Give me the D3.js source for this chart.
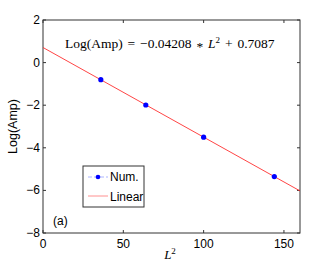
<!DOCTYPE html>
<html>
<head>
<meta charset="utf-8">
<script src="https://cdn.jsdelivr.net/npm/d3@7"></script>
<style>
body { margin: 0; background: #fff; }
svg { display: block; }
</style>
</head>
<body>
<script>
// data
const L2 = [36, 64, 100, 144];
const logAmp = [-0.80, -1.99, -3.50, -5.35];
const slope = -0.04208, intercept = 0.7087;
const xTicks = [0, 50, 100, 150];
const yTicks = [2, 0, -2, -4, -6, -8];

const W = 332, H = 263;
const margin = {left: 43, right: 32, top: 20, bottom: 30};

const svg = d3.select("body").append("svg").attr("width", W).attr("height", H);

const x = d3.scaleLinear().domain([0, 160]).range([margin.left, W - margin.right]);
const y = d3.scaleLinear().domain([-8, 2]).range([H - margin.bottom, margin.top]);

const font = "Helvetica, 'Liberation Sans', Arial, sans-serif";
const serif = "'Liberation Serif', 'Times New Roman', serif";

// box
svg.append("rect")
    .attr("x", x(0)).attr("y", y(2))
    .attr("width", x(160) - x(0)).attr("height", y(-8) - y(2))
    .attr("fill", "none").attr("stroke", "#333").attr("stroke-width", 1);

// inward ticks, mirrored
const tl = 3;
xTicks.forEach(t => {
    svg.append("line").attr("x1", x(t)).attr("x2", x(t)).attr("y1", y(-8)).attr("y2", y(-8) - tl).attr("stroke", "#333");
    svg.append("line").attr("x1", x(t)).attr("x2", x(t)).attr("y1", y(2)).attr("y2", y(2) + tl).attr("stroke", "#333");
    svg.append("text").attr("x", x(t)).attr("y", y(-8) + 15)
        .attr("text-anchor", "middle").attr("font-family", font).attr("font-size", 12)
        .text(t);
});
yTicks.forEach(t => {
    svg.append("line").attr("x1", x(0)).attr("x2", x(0) + tl).attr("y1", y(t)).attr("y2", y(t)).attr("stroke", "#333");
    svg.append("line").attr("x1", x(160)).attr("x2", x(160) - tl).attr("y1", y(t)).attr("y2", y(t)).attr("stroke", "#333");
    svg.append("text").attr("x", x(0) - 3).attr("y", y(t) + 4)
        .attr("text-anchor", "end").attr("font-family", font).attr("font-size", 12)
        .text(t < 0 ? "\u2212" + Math.abs(t) : t);
});

// fit line
const line = d3.line().x(d => x(d)).y(d => y(slope * d + intercept));
svg.append("path").datum([0, 160]).attr("d", line)
    .attr("fill", "none").attr("stroke", "#ff3030").attr("stroke-width", 0.9);

// data points
svg.selectAll(".pt").data(L2).enter().append("circle")
    .attr("cx", d => x(d)).attr("cy", (d, i) => y(logAmp[i]))
    .attr("r", 2.6).attr("fill", "#0000ff");

// equation
const eq = svg.append("text").attr("x", 65).attr("y", 48)
    .attr("font-family", serif).attr("font-size", 13.5).attr("word-spacing", 1.5);
eq.append("tspan").text("Log(Amp) = \u22120.04208 ");
eq.append("tspan").attr("dy", 3).text("*");
eq.append("tspan").attr("dy", -3).text(" ");
eq.append("tspan").attr("font-style", "italic").text("L");
eq.append("tspan").attr("font-size", 9).attr("dy", -5).text("2");
eq.append("tspan").attr("dy", 5).text(" + 0.7087");

// axis labels
const xl = svg.append("text").attr("x", 170).attr("y", 259).attr("text-anchor", "middle")
    .attr("font-family", serif).attr("font-size", 13);
xl.append("tspan").attr("font-style", "italic").text("L");
xl.append("tspan").attr("font-size", 9).attr("dy", -5).text("2");

svg.append("text").attr("transform", "translate(17," + y(-3) + ") rotate(-90)")
    .attr("text-anchor", "middle").attr("font-family", font).attr("font-size", 12.5)
    .text("Log(Amp)");

// legend
const lg = svg.append("g").attr("transform", "translate(83,166)");
lg.append("rect").attr("width", 61).attr("height", 41)
    .attr("fill", "#fff").attr("stroke", "#333").attr("stroke-width", 1);
lg.append("line").attr("x1", 5).attr("x2", 25).attr("y1", 11).attr("y2", 11)
    .attr("stroke", "#aab4ff").attr("stroke-dasharray", "4,2");
lg.append("circle").attr("cx", 15).attr("cy", 11).attr("r", 2.3).attr("fill", "#0000ff");
lg.append("text").attr("x", 27).attr("y", 15).attr("font-family", font).attr("font-size", 12).text("Num.");
lg.append("line").attr("x1", 5).attr("x2", 25).attr("y1", 30).attr("y2", 30)
    .attr("stroke", "#ff9090");
lg.append("text").attr("x", 27).attr("y", 35).attr("font-family", font).attr("font-size", 12).text("Linear");

svg.append("text").attr("x", 53).attr("y", 225).attr("font-family", font).attr("font-size", 12).text("(a)");
</script>
</body>
</html>
